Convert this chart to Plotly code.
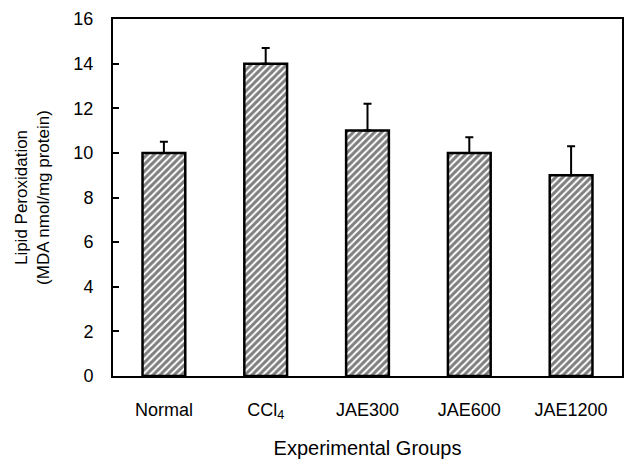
import plotly.graph_objects as go

groups = ["Normal", "CCl<sub>4</sub>", "JAE300", "JAE600", "JAE1200"]
values = [10.0, 14.0, 11.0, 10.0, 9.0]
errors = [0.5, 0.7, 1.2, 0.7, 1.3]
y_ticks = [0, 2, 4, 6, 8, 10, 12, 14, 16]

FONT = "Liberation Sans, Arial, sans-serif"

fig = go.Figure(go.Bar(
    x=groups, y=values, width=0.42,
    marker=dict(color="white", line=dict(color="black", width=2.5),
                pattern=dict(shape="/", fgcolor="black", bgcolor="white", size=5, solidity=0.6)),
    error_y=dict(type="data", array=errors, arrayminus=[0]*len(errors), symmetric=False,
                 color="black", thickness=2, width=4),
))

fig.update_layout(
    width=627, height=465,
    margin=dict(l=113, r=5, t=19, b=89, autoexpand=False),
    paper_bgcolor="white", plot_bgcolor="white",
    font=dict(family=FONT, color="black", size=18),
    showlegend=False,
)
fig.update_xaxes(showline=True, linecolor="black", linewidth=2, mirror=True,
                 ticks="", tickfont=dict(size=18), ticklabelstandoff=16, automargin=False,
                 title=dict(text="Experimental Groups", font=dict(size=20), standoff=20))
fig.update_yaxes(range=[0, 16], tickvals=y_ticks, showline=True, linecolor="black",
                 linewidth=2, mirror=True, ticks="inside", ticklen=6, tickwidth=2,
                 tickcolor="black", showgrid=False, zeroline=False, automargin=False,
                 tickfont=dict(size=18), ticklabelstandoff=14,
                 title=dict(text="Lipid Peroxidation<br>(MDA nmol/mg protein)",
                            font=dict(size=17), standoff=19))

fig.write_html("out.html", config={"displayModeBar": False},
               post_script="document.body.style.margin='0';document.body.style.overflow='hidden';")
